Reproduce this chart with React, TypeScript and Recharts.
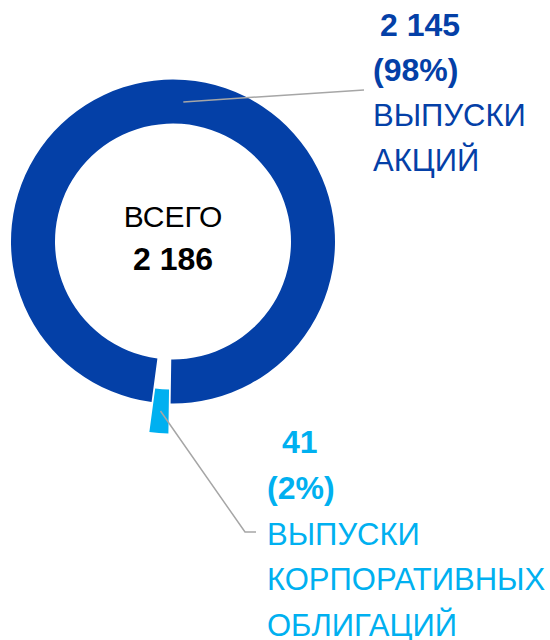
import React from "react";
import { PieChart, Pie, Cell } from "recharts";

// data
const categories = ["ВЫПУСКИ АКЦИЙ", "ВЫПУСКИ КОРПОРАТИВНЫХ ОБЛИГАЦИЙ"];
const values = [2145, 41];
const nameLines = [
  ["ВЫПУСКИ", "АКЦИЙ"],
  ["ВЫПУСКИ", "КОРПОРАТИВНЫХ", "ОБЛИГАЦИЙ"],
];
const centerTitle = "ВСЕГО";

// styles
const colors = ["#0440A7", "#00B0F0"];
const explode = [0, 30];
const CX = 173;
const CY = 241.5;
const START = 262.4;
const FONT = "'Liberation Sans', Arial, sans-serif";
const RADIAN = Math.PI / 180;

// where each label's text block sits and how its leader line bends
const labelLayout = [
  { x: 373, y: 36, numDx: 7, lineHeight: 45, path: [[364, 90]] },
  { x: 267, y: 453, numDx: 15, lineHeight: 45.8, path: [[245, 532], [256, 532]] },
];

const data = categories.map((name, i) => ({ name, value: values[i] }));
const total = values.reduce((a, b) => a + b, 0);

const fmt = (v: number) => String(v).replace(/\B(?=(\d{3})+(?!\d))/g, " ");

// middle angle of each slice (clockwise from START), used for the exploded offset
function midAngleOf(i: number) {
  const before = values.slice(0, i).reduce((a, b) => a + b, 0);
  return START - ((before + values[i] / 2) / total) * 360;
}

function shiftOf(i: number) {
  const a = midAngleOf(i) * RADIAN;
  return { dx: explode[i] * Math.cos(a), dy: -explode[i] * Math.sin(a) };
}

function renderLabel(props: any) {
  const { cx, cy, midAngle, innerRadius, outerRadius, index, value, percent } = props;
  const r = (innerRadius + outerRadius) / 2;
  const { dx, dy } = shiftOf(index);
  const sx = cx + r * Math.cos(-midAngle * RADIAN) + dx;
  const sy = cy + r * Math.sin(-midAngle * RADIAN) + dy;
  const lay = labelLayout[index];
  const pts = [[sx, sy], ...lay.path].map((p) => p.join(",")).join(" ");
  const color = colors[index];
  return (
    <g key={`lbl-${index}`}>
      <polyline points={pts} fill="none" stroke="#A6A6A6" strokeWidth={1.5} />
      <text x={lay.x + lay.numDx} y={lay.y} fill={color} fontSize={32} fontWeight="bold" fontFamily={FONT}>
        {fmt(value)}
      </text>
      <text x={lay.x} y={lay.y + lay.lineHeight} fill={color} fontSize={32} fontWeight="bold" fontFamily={FONT}>
        ({Math.round(percent * 100)}%)
      </text>
      {nameLines[index].map((t, j) => (
        <text
          key={j}
          x={lay.x}
          y={lay.y + lay.lineHeight * (j + 2)}
          fill={color}
          fontSize={31}
          fontFamily={FONT}
        >
          {t}
        </text>
      ))}
    </g>
  );
}

export default function App() {
  return (
    <div style={{ position: "absolute", left: 0, top: 0, width: 550, height: 640, background: "#fff" }}>
      <PieChart width={550} height={640} margin={{ top: 0, right: 0, bottom: 0, left: 0 }}>
        <Pie
          data={data}
          dataKey="value"
          nameKey="name"
          cx={CX}
          cy={CY}
          innerRadius={118}
          outerRadius={162}
          startAngle={START}
          endAngle={START - 360}
          stroke="none"
          labelLine={false}
          label={renderLabel}
          isAnimationActive={false}
        >
          {data.map((d, i) => {
            const { dx, dy } = shiftOf(i);
            return (
              <Cell
                key={d.name}
                fill={colors[i]}
                {...({ transform: `translate(${dx},${dy})` } as any)}
              />
            );
          })}
        </Pie>
        <text x={CX} y={227} textAnchor="middle" fontSize={30} fontFamily={FONT} fill="#000">
          {centerTitle}
        </text>
        <text x={CX} y={270} textAnchor="middle" fontSize={32} fontWeight="bold" fontFamily={FONT} fill="#000">
          {fmt(total)}
        </text>
      </PieChart>
    </div>
  );
}
